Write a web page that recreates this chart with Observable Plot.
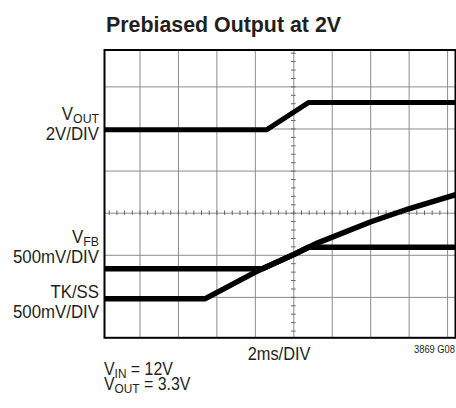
<!DOCTYPE html>
<html><head><meta charset="utf-8">
<script src="https://cdn.jsdelivr.net/npm/d3@7"></script>
<script src="https://cdn.jsdelivr.net/npm/@observablehq/plot@0.6"></script>
<style>
html,body{margin:0;padding:0;background:#fff;}
#wrap{position:relative;width:456px;height:408px;overflow:hidden;}
#wrap svg{display:block;}
</style></head><body><div id="wrap"></div>
<script>
// Channel labels (left side)
const channelNames = ["V", "V", "TK/SS"];
const channelSubs = ["OUT", "FB", ""];
const channelScales = ["2V/DIV", "500mV/DIV", "500mV/DIV"];
const channelLabelLevel = [2.2, -0.72, -2.03];

// Traces, x in time divisions (0 = centre), y in screen divisions (0 = centre)
const voutT = [-4.92, -0.71, 0.39, 4.21];
const voutV = [1.98, 1.98, 2.63, 2.63];
const vfbT = [-4.92, -0.82, 0, 0.38, 4.21];
const vfbV = [-1.32, -1.32, -0.98, -0.81, -0.81];
const tkssT = [-4.92, -2.30, -1.0, 0, 0.56, 1.99, 2.99, 4.21];
const tkssV = [-2.03, -2.03, -1.40, -0.98, -0.73, -0.21, 0.105, 0.44];

// Graticule
const gridX = [-4, -3, -2, -1, 0, 1, 2, 3, 4];
const gridY = [-2, -1, 0, 1, 2, 3];
const minorX = d3.range(-24, 22).map(i => i / 5);
const minorY = d3.range(-14, 20).map(i => i / 5);

const titleText = "Prebiased Output at 2V";
const xLabel = "2ms/DIV";
const figCode = "3869 G08";
const notes = [["V", "IN", " = 12V"], ["V", "OUT", " = 3.3V"]];

const toRows = (T, V) => T.map((t, i) => ({t, v: V[i]}));
const vout = toRows(voutT, voutV);
const vfb = toRows(vfbT, vfbV);
const tkss = toRows(tkssT, tkssV);

const FONT = "'Liberation Sans',Arimo,Arial,sans-serif";
const INK = "#231f20";
const SQ = 0.91; // horizontal condensing to mimic a condensed face

const plot = Plot.plot({
  width: 456, height: 408,
  marginLeft: 104, marginRight: 1, marginTop: 49.5, marginBottom: 70.7,
  x: {domain: [-4.923, 4.206], axis: null},
  y: {domain: [-2.96, 3.876], axis: null},
  style: {background: "#fff", overflow: "visible"},
  marks: [
    Plot.ruleX(gridX, {x: d => d, stroke: "#8c8c8c", strokeWidth: 1}),
    Plot.ruleY(gridY, {y: d => d, stroke: "#8c8c8c", strokeWidth: 1}),
    Plot.ruleY(minorY, {y: d => d, x1: () => -0.06, x2: () => 0.06, stroke: "#666", strokeWidth: 1}),
    Plot.ruleX(minorX, {x: d => d, y1: () => -0.055, y2: () => 0.055, stroke: "#666", strokeWidth: 1}),
    Plot.frame({stroke: "#000", strokeWidth: 2}),
    Plot.line(tkss, {x: "t", y: "v", stroke: "#000", strokeWidth: 5.5, clip: true}),
    Plot.line(vfb, {x: "t", y: "v", stroke: "#000", strokeWidth: 5.5, clip: true}),
    Plot.line(vout, {x: "t", y: "v", stroke: "#000", strokeWidth: 5, clip: true})
  ]
});
document.getElementById("wrap").appendChild(plot);

const svg = d3.select(plot);
const ys = plot.scale("y");
const xs = plot.scale("x");
const fLeft = xs.apply(xs.domain[0]);
const fRight = xs.apply(xs.domain[1]);
const fBottom = ys.apply(ys.domain[0]);
const fTop = ys.apply(ys.domain[1]);

const g = svg.append("g").attr("font-family", FONT).attr("fill", INK);
const txt = (x, y, anchor, size, sq = SQ) =>
  g.append("text").attr("transform", `translate(${x},${y}) scale(${sq},1)`)
    .attr("text-anchor", anchor).attr("font-size", size);

// title
txt(223.5, fTop - 18, "middle", 23, 0.93).attr("font-weight", "bold").text(titleText);

// channel labels: two lines in one text element
channelNames.forEach((n, i) => {
  const y = ys.apply(channelLabelLevel[i]);
  const t = txt(fLeft - 5, y, "end", 18.5);
  t.append("tspan").attr("x", 0).attr("y", 0).text(n);
  if (channelSubs[i]) t.append("tspan").attr("font-size", 13.5).attr("dy", 3).text(channelSubs[i]);
  t.append("tspan").attr("x", 0).attr("y", 20).text(channelScales[i]);
});

// x label & figure code
txt(xs.apply(-0.37), fBottom + 23, "middle", 18).text(xLabel);
txt(fRight, fBottom + 16, "end", 11, 0.85).text(figCode);

// conditions: two lines in one text element
const tn = txt(fLeft, fBottom + 38, "start", 17.5);
notes.forEach((n, i) => {
  tn.append("tspan").attr("x", 0).attr("y", i * 15).text(n[0]);
  tn.append("tspan").attr("font-size", 13).attr("dy", 3).text(n[1]);
  tn.append("tspan").attr("dy", -3).text(n[2]);
});
</script></body></html>
